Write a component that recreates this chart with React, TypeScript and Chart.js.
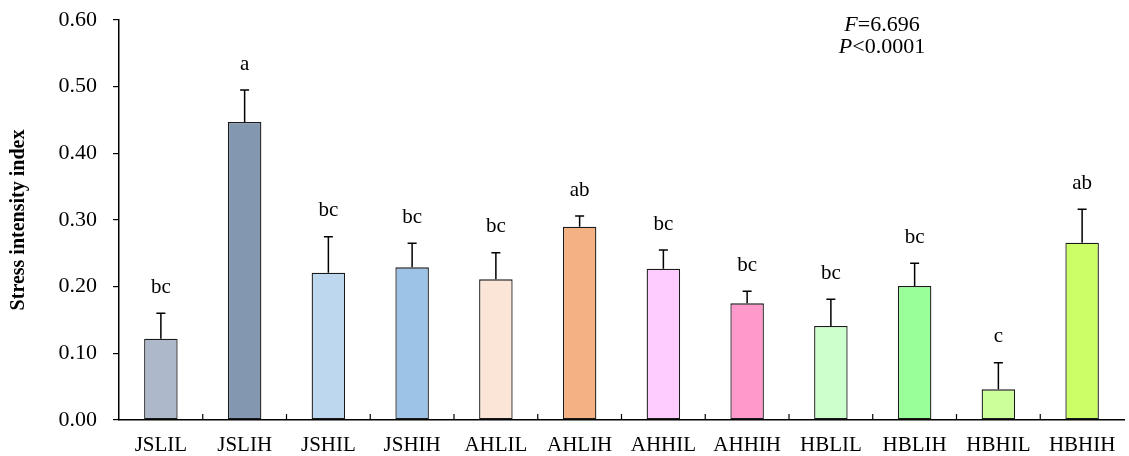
import React, { useEffect, useRef } from "react";
import { Chart, registerables } from "chart.js";

Chart.register(...registerables);

const categories = ["JSLIL", "JSLIH", "JSHIL", "JSHIH", "AHLIL", "AHLIH", "AHHIL", "AHHIH", "HBLIL", "HBLIH", "HBHIL", "HBHIH"];
const means = [0.122, 0.447, 0.221, 0.229, 0.211, 0.290, 0.227, 0.175, 0.141, 0.201, 0.046, 0.266];
const errors = [0.038, 0.048, 0.054, 0.036, 0.040, 0.016, 0.028, 0.018, 0.040, 0.034, 0.040, 0.050];
const letters = ["bc", "a", "bc", "bc", "bc", "ab", "bc", "bc", "bc", "bc", "c", "ab"];
const colors = ["#adb9ca", "#8497b0", "#bdd7ee", "#9dc3e6", "#fbe5d6", "#f4b183", "#ffccff", "#ff99cc", "#ccffcc", "#99ff99", "#ccff99", "#ccff66"];
const yTicks = [0, 0.1, 0.2, 0.3, 0.4, 0.5, 0.6];
const statF = "6.696";
const statP = "0.0001";

const FONT = "'Liberation Serif', 'Times New Roman', serif";

const overlayPlugin = {
  id: "overlay",
  afterDatasetsDraw(chart: any) {
    const ctx = chart.ctx;
    const meta = chart.getDatasetMeta(0);
    const y = chart.scales.y;
    const x = chart.scales.x;
    ctx.save();
    ctx.strokeStyle = "#000";
    ctx.lineWidth = 1.5;
    meta.data.forEach((bar: any, i: number) => {
      const top = y.getPixelForValue(means[i]);
      const et = y.getPixelForValue(means[i] + errors[i]);
      ctx.beginPath();
      ctx.moveTo(bar.x, top);
      ctx.lineTo(bar.x, et);
      ctx.moveTo(bar.x - 4.5, et);
      ctx.lineTo(bar.x + 4.5, et);
      ctx.stroke();
      ctx.fillStyle = "#000";
      ctx.font = `21px ${FONT}`;
      ctx.textAlign = "center";
      ctx.textBaseline = "middle";
      ctx.fillText(letters[i], bar.x, et - 26);
    });
    ctx.lineWidth = 1.2;
    const base = y.getPixelForValue(0);
    for (let i = 1; i < categories.length; i++) {
      const px = (x.getPixelForValue(i - 1) + x.getPixelForValue(i)) / 2;
      ctx.beginPath();
      ctx.moveTo(px, base);
      ctx.lineTo(px, base - 6);
      ctx.stroke();
    }
    const cx = 882;
    ctx.textBaseline = "middle";
    const drawMixed = (italic: string, rest: string, cy: number) => {
      ctx.font = `italic 22px ${FONT}`;
      const w1 = ctx.measureText(italic).width;
      ctx.font = `22px ${FONT}`;
      const w2 = ctx.measureText(rest).width;
      const start = cx - (w1 + w2) / 2;
      ctx.textAlign = "left";
      ctx.font = `italic 22px ${FONT}`;
      ctx.fillText(italic, start, cy);
      ctx.font = `22px ${FONT}`;
      ctx.fillText(rest, start + w1, cy);
    };
    drawMixed("F", "=" + statF, 25);
    drawMixed("P", "<" + statP, 47);
    ctx.restore();
  },
};

export default function App() {
  const ref = useRef<HTMLCanvasElement>(null);
  useEffect(() => {
    document.body.style.margin = "0";
    const chart = new Chart(ref.current!, {
      type: "bar",
      data: {
        labels: categories,
        datasets: [
          {
            data: means,
            backgroundColor: colors,
            borderColor: "#1a1a1a",
            borderWidth: 1.3,
            borderSkipped: false,
            categoryPercentage: 1,
            barPercentage: 0.4,
          },
        ],
      },
      options: {
        animation: false,
        responsive: false,
        maintainAspectRatio: false,
        layout: { padding: { top: 20, right: 5, left: 0, bottom: 0 } },
        plugins: { legend: { display: false }, tooltip: { enabled: false } },
        scales: {
          x: {
            grid: { display: false },
            border: { display: true, color: "#000", width: 1.5 },
            ticks: { color: "#000", font: { family: FONT, size: 21 }, padding: 5, maxRotation: 0 },
            afterFit(scale: any) {
              scale.height = 36;
              scale.paddingLeft = 0;
              scale.paddingRight = 0;
            },
          },
          y: {
            min: 0,
            max: 0.6,
            afterBuildTicks(scale: any) {
              scale.ticks = yTicks.map((v) => ({ value: v }));
            },
            grid: { drawOnChartArea: false, drawTicks: true, tickLength: 6, color: "#000", lineWidth: 1.2 },
            border: { display: true, color: "#000", width: 1.5 },
            ticks: {
              color: "#000",
              font: { family: FONT, size: 22 },
              padding: 16,
              callback: (v: any) => Number(v).toFixed(2),
            },
            title: {
              display: true,
              text: "Stress intensity index",
              color: "#000",
              font: { family: FONT, size: 20, weight: "bold" },
              padding: { top: 7, bottom: 0 },
            },
            afterFit(scale: any) {
              scale.width = 119;
              scale.paddingTop = 0;
              scale.paddingBottom = 0;
            },
          },
        },
      },
      plugins: [overlayPlugin],
    });
    return () => chart.destroy();
  }, []);
  return (
    <div style={{ width: 1129, height: 456 }}>
      <canvas ref={ref} width={1129} height={456} style={{ width: 1129, height: 456, display: "block" }} />
    </div>
  );
}
